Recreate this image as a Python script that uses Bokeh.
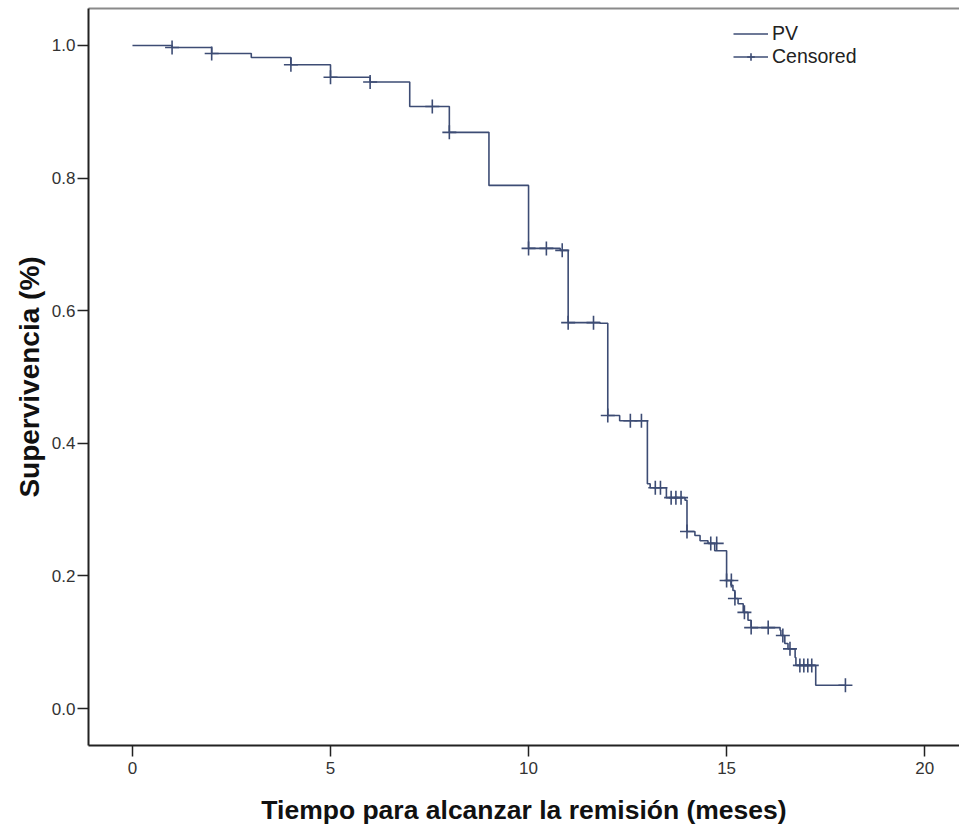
from bokeh.plotting import figure
from bokeh.models import (LinearAxis, Legend, LegendItem, Range1d, FixedTicker,
                          CustomJSTickFormatter)
from bokeh.embed import file_html
from bokeh.resources import INLINE

# Kaplan-Meier step curve (time in months, survival after each drop)
step_t = [0.0, 1.0, 2.0, 3.0, 4.0, 5.0, 6.0, 7.0, 8.0, 9.0, 10.0, 10.8, 11.0, 11.8,
          12.0, 12.3, 13.0, 13.07, 13.48, 13.95, 14.0, 14.2, 14.33, 14.53, 14.7,
          15.0, 15.11, 15.16, 15.21, 15.29, 15.42, 15.54, 15.62, 16.35, 16.37,
          16.47, 16.55, 16.73, 16.75, 17.25, 18.0]
step_s = [1.0, 0.997, 0.988, 0.982, 0.971, 0.952, 0.945, 0.908, 0.869, 0.789, 0.694,
          0.691, 0.582, 0.581, 0.442, 0.434, 0.339, 0.333, 0.318, 0.314, 0.267,
          0.261, 0.253, 0.249, 0.238, 0.193, 0.186, 0.178, 0.166, 0.158, 0.145,
          0.133, 0.122, 0.118, 0.110, 0.098, 0.090, 0.077, 0.065, 0.035, 0.035]

# Censored observations
cens_t = [1.0, 2.0, 4.0, 5.0, 6.0, 7.57, 8.0, 10.0, 10.45, 10.85, 11.0, 11.64,
          12.0, 12.57, 12.85, 13.2, 13.33, 13.6, 13.72, 13.85, 14.0, 14.6, 14.75,
          15.0, 15.12, 15.21, 15.45, 15.62, 16.05, 16.42, 16.6, 16.85, 16.95,
          17.05, 17.15, 18.0]
cens_s = [0.997, 0.988, 0.971, 0.952, 0.945, 0.908, 0.869, 0.694, 0.694, 0.691,
          0.582, 0.582, 0.442, 0.434, 0.434, 0.333, 0.333, 0.318, 0.318, 0.318,
          0.267, 0.249, 0.249, 0.193, 0.193, 0.166, 0.145, 0.122, 0.122, 0.110,
          0.090, 0.065, 0.065, 0.065, 0.065, 0.035]

x_ticks = [0, 5, 10, 15, 20]
y_ticks = [0.0, 0.2, 0.4, 0.6, 0.8, 1.0]

LINE = "#3d4c74"

p = figure(width=959, height=831, output_backend="svg", toolbar_location=None,
           x_range=Range1d(-1.11, 20.88), y_range=Range1d(-0.0558, 1.0558),
           min_border_left=88, min_border_right=0, min_border_top=8,
           min_border_bottom=86)
p.outline_line_color = None
p.background_fill_color = "white"
p.border_fill_color = "white"
p.xgrid.visible = False
p.ygrid.visible = False

r_step = p.step(step_t, step_s, mode="after", line_color=LINE, line_width=1.6)
r_cens = p.scatter(cens_t, cens_s, marker="cross", size=14, line_color=LINE,
                   line_width=1.6)

for ax in (p.xaxis[0], p.yaxis[0]):
    ax.axis_line_color = "#222222"
    ax.axis_line_width = 2
    ax.major_tick_line_color = "#222222"
    ax.major_tick_line_width = 1.5
    ax.major_tick_out = 11
    ax.major_tick_in = 0
    ax.minor_tick_line_color = None
    ax.major_label_text_font = "Liberation Sans"
    ax.major_label_text_font_size = "17px"
    ax.major_label_text_color = "#333333"
    ax.axis_label_text_font = "Liberation Sans"
    ax.axis_label_text_font_style = "bold"
    ax.axis_label_text_color = "#111111"

p.xaxis[0].axis_label_text_font_size = "26.5px"
p.yaxis[0].axis_label_text_font_size = "28px"
p.xaxis[0].ticker = FixedTicker(ticks=x_ticks)
p.yaxis[0].ticker = FixedTicker(ticks=y_ticks)
p.yaxis[0].formatter = CustomJSTickFormatter(code="return tick.toFixed(1);")
p.xaxis[0].axis_label = "Tiempo para alcanzar la remisión (meses)"
p.yaxis[0].axis_label = "Supervivencia (%)"
p.xaxis[0].major_label_standoff = 5
p.yaxis[0].major_label_standoff = 2
p.xaxis[0].axis_label_standoff = 18
p.yaxis[0].axis_label_standoff = 4

top = LinearAxis(ticker=FixedTicker(ticks=[]), major_label_text_font_size="0px",
                 axis_line_color="#8a8a8a", axis_line_width=2,
                 major_tick_line_color=None, minor_tick_line_color=None)
p.add_layout(top, "above")

legend = Legend(items=[LegendItem(label="PV", renderers=[r_step]),
                       LegendItem(label="Censored", renderers=[r_step, r_cens])],
                location=(645, 677), padding=0, margin=0, spacing=-2,
                label_height=19, glyph_height=19, glyph_width=35,
                label_standoff=4, label_text_font="Liberation Sans",
                label_text_font_size="19.5px", label_text_color="#222222",
                background_fill_alpha=0, border_line_color=None)
p.add_layout(legend, "center")

open("out.html", "w").write(file_html(p, INLINE))
